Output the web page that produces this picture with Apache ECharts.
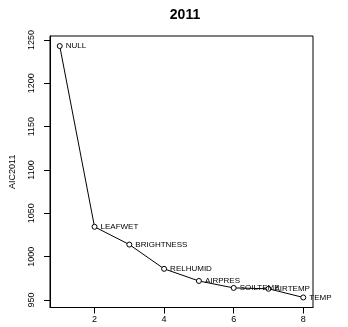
<!DOCTYPE html>
<html>
<head>
<meta charset="utf-8">
<script src="https://cdn.jsdelivr.net/npm/echarts@6/dist/echarts.min.js"></script>
<style>
html,body{margin:0;padding:0;background:#fff;}
#c{width:348px;height:327px;}
</style>
</head>
<body>
<div id="c"></div>
<script>
const steps = [1, 2, 3, 4, 5, 6, 7, 8];
const names = ['NULL', 'LEAFWET', 'BRIGHTNESS', 'RELHUMID', 'AIRPRES', 'SOILTEMP', 'AIRTEMP', 'TEMP'];
const aic = [1243, 1034.5, 1014, 986, 972, 964, 963, 953];
const xTicks = [2, 4, 6, 8];
const yTicks = [950, 1000, 1050, 1100, 1150, 1200, 1250];

const font = 'Liberation Sans, Arial, Helvetica, sans-serif';
const chart = echarts.init(document.getElementById('c'), null, {renderer: 'canvas'});
const ymin = Math.min(...aic), ymax = Math.max(...aic);
const yr = ymax - ymin;
chart.setOption({
  animation: false,
  backgroundColor: '#fff',
  title: {
    text: '2011', left: 180, top: 3, textAlign: 'center',
    textStyle: {fontFamily: font, fontWeight: 'bold', fontSize: 14, color: '#000'}
  },
  grid: {
    left: 47, right: 35, top: 36, bottom: 19.5,
    show: true, borderColor: '#000', borderWidth: 1, backgroundColor: 'transparent'
  },
  xAxis: {
    type: 'value', min: 0.72, max: 8.28,
    axisLine: {show: true, lineStyle: {color: '#000', width: 1}},
    splitLine: {show: false},
    axisTick: {show: true, inside: false, length: 6, customValues: xTicks, lineStyle: {color: '#000', width: 1}},
    axisLabel: {customValues: xTicks, margin: 8, fontSize: 9, fontFamily: font, color: '#000', formatter: v => String(v)}
  },
  yAxis: {
    type: 'value', min: ymin - 0.04 * yr, max: ymax + 0.04 * yr,
    name: 'AIC2011', nameLocation: 'middle', nameRotate: 90, nameGap: 33,
    nameTextStyle: {fontSize: 9, fontFamily: font, color: '#000'},
    axisLine: {show: true, lineStyle: {color: '#000', width: 1}},
    splitLine: {show: false},
    axisTick: {show: true, inside: false, length: 6, customValues: yTicks, lineStyle: {color: '#000', width: 1}},
    axisLabel: {customValues: yTicks, rotate: 90, margin: 14, fontSize: 9, fontFamily: font, color: '#000', formatter: v => String(v)}
  },
  series: [{
    type: 'line',
    data: steps.map((s, i) => ({value: [s, aic[i]], name: names[i]})),
    symbol: 'circle', symbolSize: 5,
    itemStyle: {color: '#fff', borderColor: '#000', borderWidth: 1},
    lineStyle: {color: '#000', width: 1},
    label: {
      show: true, position: 'right', distance: 3,
      formatter: p => p.name,
      fontSize: 8, fontFamily: font, color: '#000'
    },
    labelLayout: {hideOverlap: false}
  }]
});
</script>
</body>
</html>
